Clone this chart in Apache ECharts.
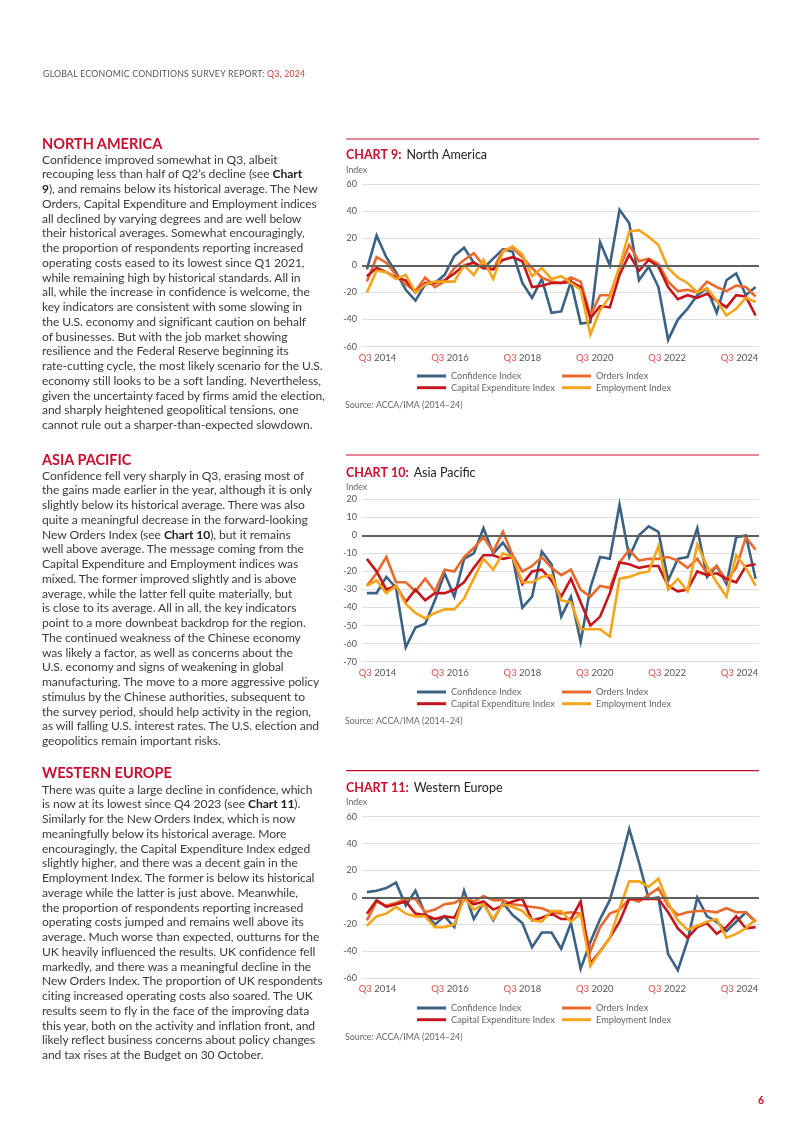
<!DOCTYPE html>
<html><head><meta charset="utf-8">
<script src="https://cdn.jsdelivr.net/npm/echarts@6/dist/echarts.min.js"></script>
<style>
html,body{margin:0;padding:0;background:#fff;}
#page{position:relative;width:802px;height:1133px;overflow:hidden;font-family:Lato,'Open Sans',sans-serif;}
#chart{position:absolute;left:0;top:0;width:802px;height:1133px;}
.txt{position:absolute;left:42px;color:#3a3a3a;font-size:12.1px;letter-spacing:-0.08px;line-height:14.75px;white-space:nowrap;z-index:2;}
.txt b{color:#1e1e1e;}
.h{position:absolute;left:42px;color:#c8102e;font-weight:bold;font-size:14.5px;line-height:16px;white-space:nowrap;z-index:2;}
.hdr{position:absolute;left:43px;top:68px;font-size:8.8px;color:#555;letter-spacing:0.2px;white-space:nowrap;z-index:2;}
.pg{position:absolute;left:758px;top:1094px;font-size:10.5px;color:#c8102e;font-weight:bold;z-index:2;}
</style></head>
<body>
<div id="page">
<div id="chart"></div>
<div class="hdr">GLOBAL ECONOMIC CONDITIONS SURVEY REPORT: <span style="color:#d0403a">Q3, 2024</span></div>

<div class="h" style="top:136px">NORTH AMERICA</div>
<div class="txt" style="top:152.6px">
Confidence improved somewhat in Q3, albeit<br>
recouping less than half of Q2’s decline (see <b>Chart</b><br>
<b>9</b>), and remains below its historical average. The New<br>
Orders, Capital Expenditure and Employment indices<br>
all declined by varying degrees and are well below<br>
their historical averages. Somewhat encouragingly,<br>
the proportion of respondents reporting increased<br>
operating costs eased to its lowest since Q1 2021,<br>
while remaining high by historical standards. All in<br>
all, while the increase in confidence is welcome, the<br>
key indicators are consistent with some slowing in<br>
the U.S. economy and significant caution on behalf<br>
of businesses. But with the job market showing<br>
resilience and the Federal Reserve beginning its<br>
rate-cutting cycle, the most likely scenario for the U.S.<br>
economy still looks to be a soft landing. Nevertheless,<br>
given the uncertainty faced by firms amid the election,<br>
and sharply heightened geopolitical tensions, one<br>
cannot rule out a sharper-than-expected slowdown.
</div>

<div class="h" style="top:452px">ASIA PACIFIC</div>
<div class="txt" style="top:468.6px">
Confidence fell very sharply in Q3, erasing most of<br>
the gains made earlier in the year, although it is only<br>
slightly below its historical average. There was also<br>
quite a meaningful decrease in the forward-looking<br>
New Orders Index (see <b>Chart 10</b>), but it remains<br>
well above average. The message coming from the<br>
Capital Expenditure and Employment indices was<br>
mixed. The former improved slightly and is above<br>
average, while the latter fell quite materially, but<br>
is close to its average. All in all, the key indicators<br>
point to a more downbeat backdrop for the region.<br>
The continued weakness of the Chinese economy<br>
was likely a factor, as well as concerns about the<br>
U.S. economy and signs of weakening in global<br>
manufacturing. The move to a more aggressive policy<br>
stimulus by the Chinese authorities, subsequent to<br>
the survey period, should help activity in the region,<br>
as will falling U.S. interest rates. The U.S. election and<br>
geopolitics remain important risks.
</div>

<div class="h" style="top:765px">WESTERN EUROPE</div>
<div class="txt" style="top:782.6px">
There was quite a large decline in confidence, which<br>
is now at its lowest since Q4 2023 (see <b>Chart 11</b>).<br>
Similarly for the New Orders Index, which is now<br>
meaningfully below its historical average. More<br>
encouragingly, the Capital Expenditure Index edged<br>
slightly higher, and there was a decent gain in the<br>
Employment Index. The former is below its historical<br>
average while the latter is just above. Meanwhile,<br>
the proportion of respondents reporting increased<br>
operating costs jumped and remains well above its<br>
average. Much worse than expected, outturns for the<br>
UK heavily influenced the results. UK confidence fell<br>
markedly, and there was a meaningful decline in the<br>
New Orders Index. The proportion of UK respondents<br>
citing increased operating costs also soared. The UK<br>
results seem to fly in the face of the improving data<br>
this year, both on the activity and inflation front, and<br>
likely reflect business concerns about policy changes<br>
and tax rises at the Budget on 30 October.
</div>
<div class="pg">6</div>
</div>

<script>
// Quarterly data, Q3 2014 .. Q3 2024 (41 quarters)
const tickLabels = ['Q3 2014','Q3 2016','Q3 2018','Q3 2020','Q3 2022','Q3 2024'];
const seriesNames = ['Confidence Index','Orders Index','Capital Expenditure Index','Employment Index'];

// Chart 9: North America
const naConfidence = [-3,22,6,-5,-18,-26,-14,-13,-7,7,13,2,-2,5,12,10,-13,-24,-10,-35,-34,-12,-43,-42,17,0,41,31,-11,-1,-16,-55,-40,-32,-22,-17,-35,-11,-6,-22,-16];
const naOrders = [-12,6,2,-7,-14,-19,-9,-16,-12,-2,4,9,0,-3,11,13,6,-2,-9,-12,-13,-9,-12,-37,-22,-22,-2,15,3,5,1,-12,-19,-18,-20,-12,-16,-19,-15,-16,-23];
const naCapex = [-8,-2,-5,-9,-11,-20,-13,-13,-11,-6,0,2,-2,-3,4,6,3,-16,-15,-13,-13,-12,-16,-39,-30,-31,-7,8,-4,4,-1,-16,-25,-22,-24,-21,-26,-31,-22,-23,-37];
const naEmployment = [-20,-4,-5,-10,-7,-20,-14,-12,-12,-12,0,-7,4,-10,10,14,8,-8,-2,-10,-8,-13,-18,-51,-33,-23,-1,25,26,21,15,-2,-9,-13,-20,-17,-26,-37,-32,-24,-27];

// Chart 10: Asia Pacific
const apConfidence = [-32,-32,-23,-29,-62,-51,-49,-36,-21,-34,-13,-10,4,-10,-4,-12,-40,-34,-9,-16,-45,-34,-59,-29,-12,-13,17,-12,0,5,2,-25,-13,-12,4,-23,-17,-27,-1,0,-24];
const apOrders = [-28,-21,-12,-26,-26,-31,-24,-31,-19,-20,-12,-7,-1,-9,2,-11,-20,-17,-12,-18,-22,-19,-30,-34,-28,-29,-15,-8,-14,-13,-13,-12,-14,-18,-13,-21,-17,-25,-18,-1,-8];
const apCapex = [-13,-20,-30,-28,-37,-30,-36,-32,-32,-30,-26,-18,-11,-11,-13,-12,-27,-20,-19,-25,-34,-24,-37,-50,-45,-32,-15,-16,-18,-17,-17,-28,-31,-30,-20,-22,-21,-24,-26,-17,-16];
const apEmployment = [-28,-25,-32,-28,-38,-43,-46,-43,-41,-41,-35,-24,-13,-19,-10,-12,-26,-26,-23,-22,-36,-37,-52,-52,-52,-56,-24,-23,-21,-20,-6,-30,-24,-31,-5,-17,-26,-34,-11,-18,-28];

// Chart 11: Western Europe
const weConfidence = [4,5,7,11,-6,5,-12,-20,-14,-22,5,-16,-4,-17,-4,-13,-19,-37,-26,-26,-38,-19,-53,-33,-16,-2,23,51,26,-1,0,-42,-54,-32,0,-14,-18,-25,-18,-11,-18];
const weOrders = [-17,-3,-6,-4,-1,-1,-11,-9,-5,-4,0,-3,1,-2,-2,-5,-6,-7,-8,-11,-12,-11,-12,-40,-22,-12,-9,-1,-3,2,7,-6,-13,-11,-10,-10,-11,-8,-11,-11,-18];
const weCapex = [-12,-2,-7,-5,-3,-12,-13,-16,-14,-15,-1,-5,-3,-9,-6,-3,-1,-17,-15,-12,-16,-16,-3,-49,-40,-30,-18,-1,-1,-1,-1,-11,-23,-30,-22,-19,-27,-22,-14,-23,-22];
const weEmployment = [-21,-14,-12,-7,-12,-14,-14,-22,-22,-20,0,-9,-5,-16,-5,-7,-10,-17,-18,-10,-10,-18,-12,-51,-40,-30,-8,12,12,8,14,-4,-17,-24,-21,-18,-16,-30,-27,-23,-16];

const colors = ['#3b6284','#ea6a2e','#c4161c','#f4a51c'];
const RED = '#c8102e';

const charts = [
  {title:'CHART 9:', sub:'North America', data:[naConfidence,naOrders,naCapex,naEmployment], min:-60, max:60, interval:20,
   rule:139, titleY:154, indexY:170, top:184, height:162.7, legendTop:370.5, sourceY:405},
  {title:'CHART 10:', sub:'Asia Pacific', data:[apConfidence,apOrders,apCapex,apEmployment], min:-70, max:20, interval:10,
   rule:455, titleY:471.5, indexY:487, top:499.3, height:162.4, legendTop:686.5, sourceY:721.5},
  {title:'CHART 11:', sub:'Western Europe', data:[weConfidence,weOrders,weCapex,weEmployment], min:-60, max:60, interval:20,
   rule:770.7, titleY:787, indexY:802.5, top:816.7, height:161.6, legendTop:1002.5, sourceY:1037}
];

const labelPos = [1.1, 8.55, 16.0, 23.45, 30.9, 38.35];

const grid=[], xAxis=[], yAxis=[], series=[], legend=[], title=[], graphic=[];
charts.forEach((c,k)=>{
  grid.push({left:362, width:397, top:c.top, height:c.height, containLabel:false});
  xAxis.push({type:'value', gridIndex:k, min:-0.5, max:40.35,
    axisLine:{show:false}, axisTick:{show:false}, splitLine:{show:false},
    axisLabel:{customValues:labelPos, margin:6, fontFamily:'Lato', fontSize:9.5,
      formatter:function(v){
        let best=0; labelPos.forEach((p,j)=>{ if(Math.abs(p-v)<Math.abs(labelPos[best]-v)) best=j; });
        const parts = tickLabels[best].split(' ');
        return '{r|'+parts[0]+'} {g|'+parts[1]+'}';
      },
      rich:{r:{color:'#d9534f',fontSize:9.5,fontFamily:'Lato'}, g:{color:'#555',fontSize:9.5,fontFamily:'Lato'}}
    }});
  yAxis.push({type:'value', gridIndex:k, min:c.min, max:c.max, interval:c.interval,
    axisLine:{show:false}, axisTick:{show:false},
    axisLabel:{color:'#555', fontSize:9, fontFamily:'Lato', margin:5},
    splitLine:{lineStyle:{color:'#dedede', width:1}}});
  // zero line
  series.push({type:'line', name:'zero'+k, xAxisIndex:k, yAxisIndex:k, data:[], z:1, silent:true,
    markLine:{silent:true, symbol:'none', label:{show:false}, animation:false,
      lineStyle:{color:'#5f5f5f', width:2, type:'solid'}, data:[{yAxis:0}]}});
  c.data.forEach((arr,s)=>{
    series.push({type:'line', name:seriesNames[s], xAxisIndex:k, yAxisIndex:k,
      data:arr.map((v,i)=>[i,v]), symbol:'none', showSymbol:false, z:3,
      lineStyle:{width:2.6, color:colors[s], join:'miter'}, itemStyle:{color:colors[s]}});
  });
  const lg = {orient:'vertical', top:c.legendTop, padding:0, icon:'rect', itemWidth:29, itemHeight:3, itemGap:0.7,
    textStyle:{fontSize:9.2, color:'#666', fontFamily:'Lato', lineHeight:11}, selectedMode:false};
  legend.push(Object.assign({}, lg, {left:417, data:[seriesNames[0], seriesNames[2]]}));
  legend.push(Object.assign({}, lg, {left:562, data:[seriesNames[1], seriesNames[3]]}));
  title.push({left:346, top:c.titleY-8, padding:0, text:'{a|'+c.title+'} {b|'+c.sub+'}',
    textStyle:{rich:{a:{color:RED, fontWeight:'bold', fontSize:12.5, fontFamily:'Lato'}, b:{color:'#222', fontWeight:'normal', fontSize:12.5, fontFamily:'Lato'}}}});
  graphic.push({type:'line', shape:{x1:346, y1:c.rule, x2:759, y2:c.rule}, style:{stroke:RED, lineWidth:1.2}, silent:true});
  graphic.push({type:'text', x:346, y:c.indexY, style:{text:'Index', fill:'#666', fontSize:8.8, fontFamily:'Lato', verticalAlign:'middle'}});
  graphic.push({type:'text', x:345, y:c.sourceY, style:{text:'Source: ACCA/IMA (2014–24)', fill:'#666', fontSize:8.8, fontFamily:'Lato', verticalAlign:'middle'}});
});

const chart = echarts.init(document.getElementById('chart'), null, {renderer:'canvas'});
chart.setOption({animation:false, backgroundColor:'transparent', title, grid, xAxis, yAxis, series, legend, graphic});
</script>
</body></html>
